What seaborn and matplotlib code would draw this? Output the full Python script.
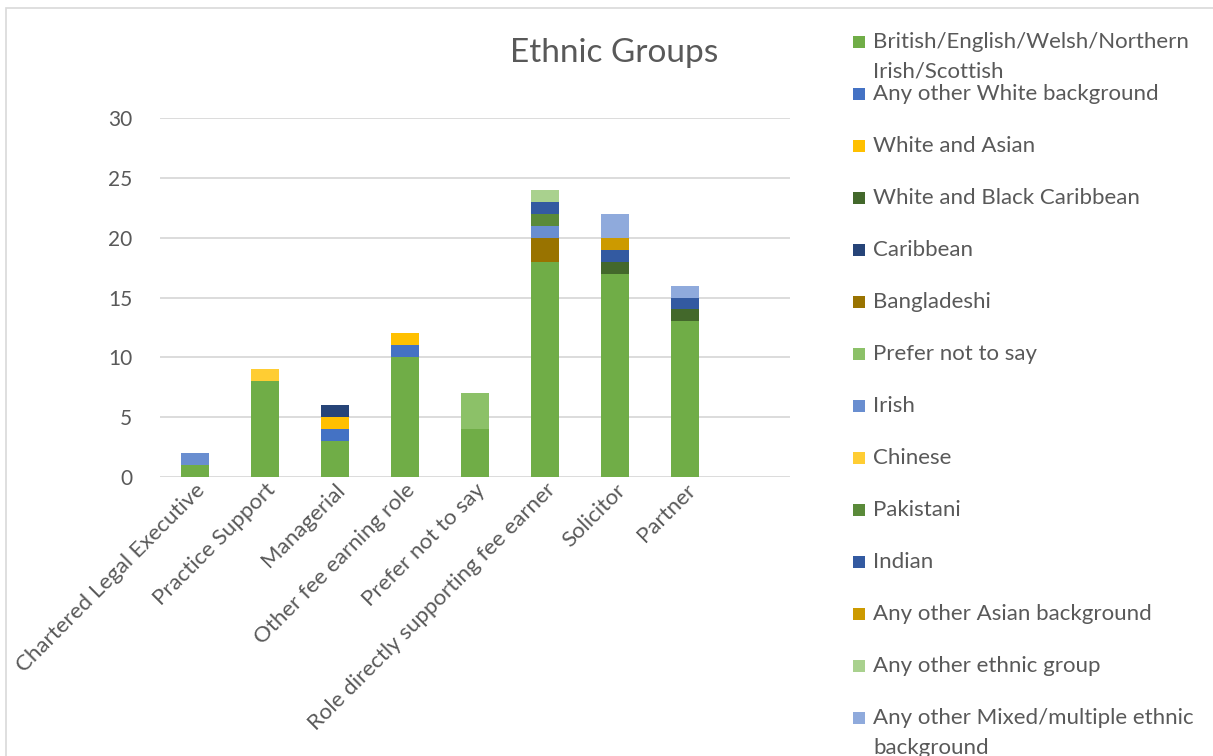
import numpy as np
import matplotlib
matplotlib.use("Agg")
import matplotlib.pyplot as plt
from matplotlib.patches import Rectangle
import seaborn as sns

categories = ["Chartered Legal Executive", "Practice Support", "Managerial",
              "Other fee earning role", "Prefer not to say",
              "Role directly supporting fee earner", "Solicitor", "Partner"]

british = [1, 8, 3, 10, 4, 18, 17, 13]
other_white = [0, 0, 1, 1, 0, 0, 0, 0]
white_asian = [0, 0, 1, 1, 0, 0, 0, 0]
white_black_caribbean = [0, 0, 0, 0, 0, 0, 1, 1]
caribbean = [0, 0, 1, 0, 0, 0, 0, 0]
bangladeshi = [0, 0, 0, 0, 0, 2, 0, 0]
prefer_not = [0, 0, 0, 0, 3, 0, 0, 0]
irish = [1, 0, 0, 0, 0, 1, 0, 0]
chinese = [0, 1, 0, 0, 0, 0, 0, 0]
pakistani = [0, 0, 0, 0, 0, 1, 0, 0]
indian = [0, 0, 0, 0, 0, 1, 1, 1]
other_asian = [0, 0, 0, 0, 0, 0, 1, 0]
other_ethnic = [0, 0, 0, 0, 0, 1, 0, 0]
other_mixed = [0, 0, 0, 0, 0, 0, 2, 1]

series_names = ["British/English/Welsh/Northern\nIrish/Scottish",
                "Any other White background", "White and Asian",
                "White and Black Caribbean", "Caribbean", "Bangladeshi",
                "Prefer not to say", "Irish", "Chinese", "Pakistani", "Indian",
                "Any other Asian background", "Any other ethnic group",
                "Any other Mixed/multiple ethnic\nbackground"]
series_values = [british, other_white, white_asian, white_black_caribbean,
                 caribbean, bangladeshi, prefer_not, irish, chinese, pakistani,
                 indian, other_asian, other_ethnic, other_mixed]
colors = ["#70AD47", "#4472C4", "#FFC000", "#43682B", "#264478", "#997300",
          "#8CC168", "#698ED0", "#FFCD33", "#5A8A39", "#335AA1", "#CC9A00",
          "#A9D18E", "#8FAADC"]

yticks = [0, 5, 10, 15, 20, 25, 30]

sns.set_theme(style="white")
plt.rcParams["font.family"] = ["Lato", "DejaVu Sans"]
TXT = "#595959"

fig = plt.figure(figsize=(12.13, 7.56), dpi=100)
ax = fig.add_axes([160/1213, 1-477/756, 630/1213, (477-118)/756])

bottom = np.zeros(len(categories))
for name, vals, col in zip(series_names, series_values, colors):
    sns.barplot(x=categories, y=vals, bottom=bottom, color=col, width=0.41,
                linewidth=0, saturation=1, ax=ax, errorbar=None)
    bottom = bottom + np.array(vals)

ax.set_xlim(-0.5, 8.5)
ax.set_ylim(0, 30)
ax.set_yticks(yticks)
ax.set_yticklabels([str(v) for v in yticks], color=TXT, fontsize=15)
ax.yaxis.grid(True, color="#D9D9D9", linewidth=1.3)
ax.set_axisbelow(True)
for s in ax.spines.values():
    s.set_visible(False)
ax.tick_params(axis="y", length=0, pad=20)
ax.tick_params(axis="x", length=0, pad=2)
ax.set_xticks(range(len(categories)))
ax.set_xticklabels(categories, rotation=45, ha="right", rotation_mode="anchor",
                   color=TXT, fontsize=16)
ax.set_xlabel("")
ax.set_ylabel("")

fig.text(614/1213, 1-53/756, "Ethnic Groups", ha="center", va="center",
         fontsize=24, color=TXT)

# legend
for i, (name, col) in enumerate(zip(series_names, colors)):
    yc = 42 + 52*i
    fig.add_artist(Rectangle((853/1213, 1-(yc+6)/756), 12/1213, 12/756,
                             transform=fig.transFigure, color=col, lw=0))
    fig.text(873/1213, 1-(yc-10)/756, name, ha="left", va="top",
             fontsize=16, color=TXT, linespacing=1.6)

fig.add_artist(Rectangle((6/1213, -0.1), 1.2, 1.1 - 8/756,
                         transform=fig.transFigure, fill=False,
                         ec="#D9D9D9", lw=1.2))

fig.savefig("out.png", dpi=100)
